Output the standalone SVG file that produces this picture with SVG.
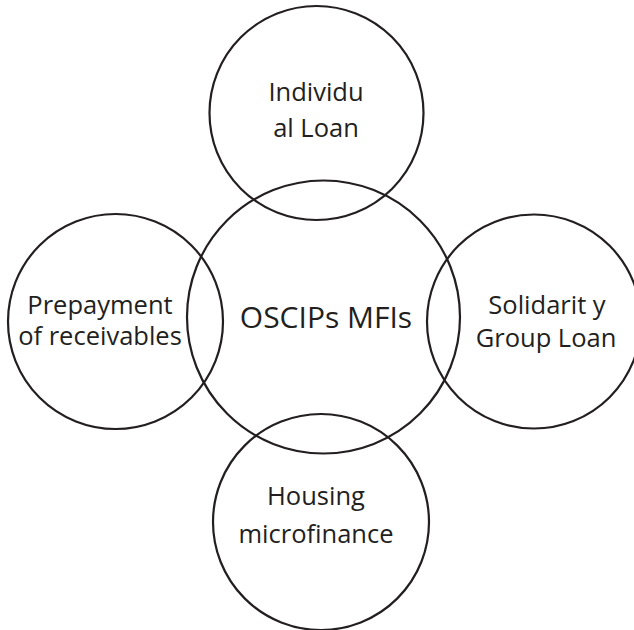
<svg xmlns="http://www.w3.org/2000/svg" width="634" height="630" viewBox="0 0 634 630">
<style>
.c{fill:none;stroke:#231f20;stroke-width:2.2}
.t{font-family:"Open Sans","Liberation Sans",sans-serif;font-size:25.5px;fill:#231f20;text-anchor:middle}
.m{font-size:30px}
</style>
<rect width="634" height="630" fill="#fff"/>
<g id="top"><circle class="c" cx="316.5" cy="113" r="107"/><text class="t" x="316" y="101">Individu</text><text class="t" x="316" y="137">al Loan</text></g>
<g id="left"><circle class="c" cx="115.5" cy="321.5" r="107.5"/><text class="t" x="100" y="314">Prepayment</text><text class="t" x="100" y="345">of receivables</text></g>
<g id="right"><circle class="c" cx="534" cy="321.5" r="107"/><text class="t" x="547" y="314">Solidarit y</text><text class="t" x="546" y="347">Group Loan</text></g>
<g id="bottom"><circle class="c" cx="321" cy="522" r="108"/><text class="t" x="316" y="505">Housing</text><text class="t" x="316" y="543">microfinance</text></g>
<g id="center"><circle class="c" cx="323.5" cy="317" r="136.5"/><text class="t m" x="326" y="328">OSCIPs MFIs</text></g>
<g id="connectors"/>
</svg>
